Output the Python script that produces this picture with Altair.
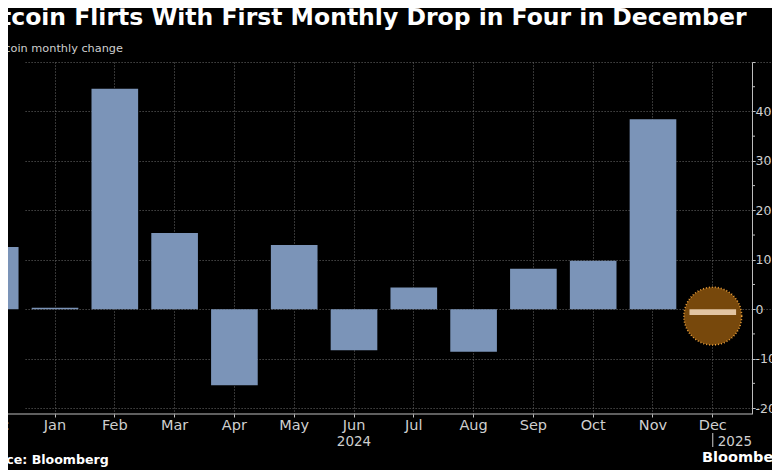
import altair as alt
import pandas as pd

# ---- data ----
months = ["Dec 2023", "Jan 2024", "Feb 2024", "Mar 2024", "Apr 2024", "May 2024",
          "Jun 2024", "Jul 2024", "Aug 2024", "Sep 2024", "Oct 2024", "Nov 2024", "Dec 2024"]
changes = [12.6, 0.3, 44.6, 15.4, -15.4, 13.0, -8.3, 4.4, -8.6, 8.2, 9.8, 38.4, -1.2]
highlight = [False] * 12 + [True]

y_major = [-20, -10, 0, 10, 20, 30, 40, 50]
y_minor = [-15, -5, 5, 15, 25, 35, 45]

year_labels = ["2024", "2025"]
year_at = ["Jun 2024", "Dec 2024"]

marker_month = ["Dec 2024"]
marker_value = [-1.4]

title_text = "Bitcoin Flirts With First Monthly Drop in Four in December"
subtitle_text = "Bitcoin monthly change"
source_text = "Source: Bloomberg"
brand_text = "Bloomberg"

FONT = "DejaVu Sans"
BAR = "#7b94b8"
GRID = "#6a6a6a"
AXIS = "#bdbdbd"
LABEL = "#cfcfcf"

df = pd.DataFrame({"month": months, "value": changes, "hl": highlight})
df_minor = pd.DataFrame({"v": y_minor})
df_mark = pd.DataFrame({"month": marker_month, "value": marker_value})

W, H = 744, 352
Y_DOMAIN = [-21.2, 50]

x_enc = alt.X(
    "month:N",
    sort=months,
    scale=alt.Scale(domain=months, range=[-36.1, 728.1], paddingInner=0.22, paddingOuter=0),
    axis=alt.Axis(
        title=None, labelExpr="split(datum.value, ' ')[0]", labelAngle=0,
        grid=True, gridDash=[1, 2], gridColor=GRID, domain=False,
        ticks=True, tickSize=3, tickColor=AXIS, labelPadding=1,
        labelFont=FONT, labelFontSize=14.5, labelColor=LABEL,
    ),
)
y_enc = alt.Y(
    "value:Q",
    scale=alt.Scale(domain=Y_DOMAIN, nice=False, zero=False),
    axis=alt.Axis(
        title=None, orient="right", values=y_major,
        labelExpr="datum.value == 50 ? '' : replace(datum.label, '\u2212', '-')",
        grid=True, gridDash=[1, 2], gridColor=GRID,
        domainColor=AXIS, tickColor=AXIS, tickSize=3, labelPadding=0,
        labelFont=FONT, labelFontSize=12.5, labelColor=LABEL,
    ),
)

bars = alt.Chart(df).transform_filter("!datum.hl").mark_bar(color=BAR).encode(
    x=x_enc, y=y_enc, y2=alt.datum(0)
)

circle = alt.Chart(df_mark).mark_point(
    shape="circle", size=3340, filled=True, fill="#77480c", fillOpacity=1,
    stroke="#f0a23a", strokeWidth=1.6, strokeDash=[1, 2], opacity=1,
).encode(x=alt.X("month:N", sort=months), y=alt.Y("value:Q"))

hl_bar = alt.Chart(df).transform_filter("datum.hl").mark_bar(color="#e2c4a2").encode(
    x=alt.X("month:N", sort=months), y=alt.Y("value:Q"), y2=alt.datum(0)
)

minor = alt.Chart(df_minor).mark_rule(color=AXIS, strokeWidth=1).encode(
    y=alt.Y("v:Q"), x=alt.value(W), x2=alt.value(W + 3)
)

bottom = alt.Chart(pd.DataFrame({"v": [Y_DOMAIN[0]]})).mark_rule(color=AXIS, strokeWidth=1.2).encode(
    y=alt.Y("v:Q")
)

df_year = pd.DataFrame({"month": year_at, "label": year_labels})
year_mid = alt.Chart(df_year.iloc[[0]]).mark_text(
    font=FONT, fontSize=13.5, color=LABEL, align="center", baseline="alphabetic"
).encode(x=alt.X("month:N", sort=months), y=alt.value(384), text="label:N")
year_new = alt.Chart(df_year.iloc[[1]]).mark_text(
    font=FONT, fontSize=13.5, color=LABEL, align="left", baseline="alphabetic", dx=5
).encode(x=alt.X("month:N", sort=months), y=alt.value(384), text="label:N")
year_tick = alt.Chart(df_year.iloc[[1]]).mark_rule(color=LABEL, strokeWidth=1).encode(
    x=alt.X("month:N", sort=months), y=alt.value(371), y2=alt.value(385)
)

def label(text, x, y, size, weight="normal", color="#ffffff", align="left"):
    return alt.Chart(pd.DataFrame({"t": [text]})).mark_text(
        font=FONT, fontSize=size, fontWeight=weight, color=color,
        align=align, baseline="alphabetic",
    ).encode(text="t:N", x=alt.value(x), y=alt.value(y))

# positions are relative to the plot origin (page x=8, y=62)
title = label(title_text, -34, -37, 23.5, "bold")
subtitle = label(subtitle_text, -19, -10, 11.3, color=LABEL)
source = label(source_text, -34.7, 402, 12.6, "bold")
brand = label(brand_text, 694, 400, 14.5, "bold")

chart = alt.layer(
    bars, circle, hl_bar, minor, bottom, year_tick, year_mid, year_new,
    title, subtitle, source, brand,
).properties(
    width=W, height=H,
    autosize=alt.AutoSizeParams(type="none"),
    padding={"left": 0, "top": 54, "right": 20, "bottom": 56},
    background="#000000",
).configure_view(stroke="transparent")

chart.save("out.html", embed_options={"renderer": "svg", "actions": False})
